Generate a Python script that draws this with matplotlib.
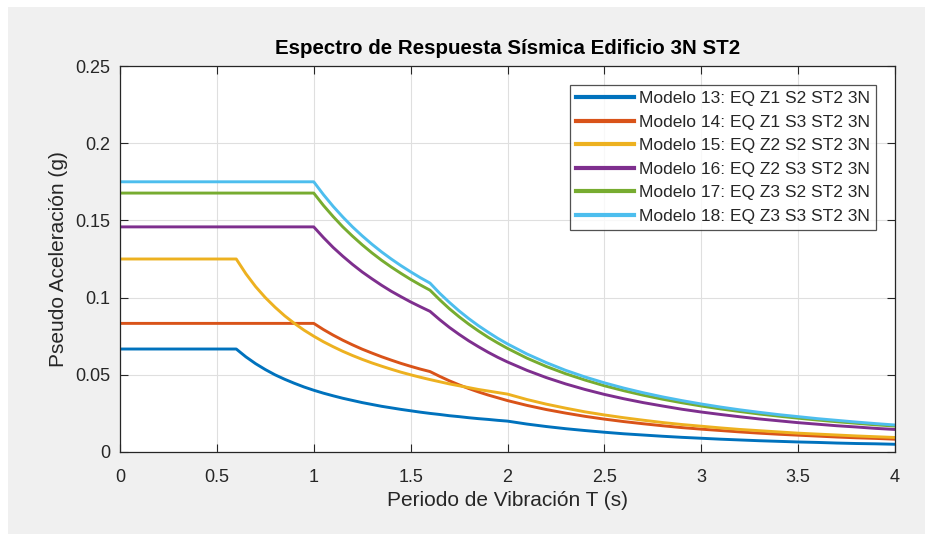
import matplotlib

matplotlib.use("Agg")

import matplotlib.pyplot as plt  # noqa: E402
from matplotlib.patches import Rectangle  # noqa: E402

plt.rcParams["font.family"] = ["Liberation Sans", "DejaVu Sans"]

# Periodo T (s): paso de 0.05 s en la rama descendente, 0.1 s en el resto
periodo = [0.0, 0.1, 0.2, 0.3, 0.4, 0.5, 0.6, 0.65, 0.7, 0.75, 0.8, 0.85, 0.9, 0.95, 1.0,
           1.05, 1.1, 1.15, 1.2, 1.25, 1.3, 1.35, 1.4, 1.45, 1.5, 1.55, 1.6,
           1.65, 1.7, 1.75, 1.8, 1.85, 1.9, 1.95, 2.0,
           2.1, 2.2, 2.3, 2.4, 2.5, 2.6, 2.7, 2.8, 2.9, 3.0,
           3.1, 3.2, 3.3, 3.4, 3.5, 3.6, 3.7, 3.8, 3.9, 4.0]

# Pseudo aceleracion Sa (g) de cada modelo
sa_m13 = [0.0667, 0.0667, 0.0667, 0.0667, 0.0667, 0.0667, 0.0667, 0.0616, 0.0572, 0.0534,
          0.0500, 0.0471, 0.0445, 0.0421, 0.0400,
          0.0381, 0.0364, 0.0348, 0.0334, 0.0320, 0.0308, 0.0296, 0.0286, 0.0276, 0.0267,
          0.0258, 0.0250,
          0.0243, 0.0235, 0.0229, 0.0222, 0.0216, 0.0211, 0.0205, 0.0200,
          0.0181, 0.0165, 0.0151, 0.0139, 0.0128, 0.0118, 0.0110, 0.0102, 0.0095, 0.0089,
          0.0083, 0.0078, 0.0073, 0.0069, 0.0065, 0.0062, 0.0058, 0.0055, 0.0053, 0.0050]
sa_m14 = [0.0833, 0.0833, 0.0833, 0.0833, 0.0833, 0.0833, 0.0833, 0.0833, 0.0833, 0.0833,
          0.0833, 0.0833, 0.0833, 0.0833, 0.0833,
          0.0793, 0.0757, 0.0724, 0.0694, 0.0666, 0.0641, 0.0617, 0.0595, 0.0574, 0.0555,
          0.0537, 0.0521,
          0.0490, 0.0461, 0.0435, 0.0411, 0.0389, 0.0369, 0.0351, 0.0333,
          0.0302, 0.0275, 0.0252, 0.0231, 0.0213, 0.0197, 0.0183, 0.0170, 0.0158, 0.0148,
          0.0139, 0.0130, 0.0122, 0.0115, 0.0109, 0.0103, 0.0097, 0.0092, 0.0088, 0.0083]
sa_m15 = [0.1250, 0.1250, 0.1250, 0.1250, 0.1250, 0.1250, 0.1250, 0.1154, 0.1071, 0.1000,
          0.0938, 0.0882, 0.0833, 0.0789, 0.0750,
          0.0714, 0.0682, 0.0652, 0.0625, 0.0600, 0.0577, 0.0556, 0.0536, 0.0517, 0.0500,
          0.0484, 0.0469,
          0.0455, 0.0441, 0.0429, 0.0417, 0.0405, 0.0395, 0.0385, 0.0375,
          0.0340, 0.0310, 0.0284, 0.0260, 0.0240, 0.0222, 0.0206, 0.0191, 0.0178, 0.0167,
          0.0156, 0.0146, 0.0138, 0.0130, 0.0122, 0.0116, 0.0110, 0.0104, 0.0099, 0.0094]
sa_m16 = [0.1458, 0.1458, 0.1458, 0.1458, 0.1458, 0.1458, 0.1458, 0.1458, 0.1458, 0.1458,
          0.1458, 0.1458, 0.1458, 0.1458, 0.1458,
          0.1389, 0.1325, 0.1268, 0.1215, 0.1166, 0.1122, 0.1080, 0.1041, 0.1006, 0.0972,
          0.0941, 0.0911,
          0.0857, 0.0807, 0.0762, 0.0720, 0.0682, 0.0646, 0.0613, 0.0583,
          0.0529, 0.0482, 0.0441, 0.0405, 0.0373, 0.0345, 0.0320, 0.0298, 0.0277, 0.0259,
          0.0243, 0.0228, 0.0214, 0.0202, 0.0190, 0.0180, 0.0170, 0.0162, 0.0153, 0.0146]
sa_m17 = [0.1677, 0.1677, 0.1677, 0.1677, 0.1677, 0.1677, 0.1677, 0.1677, 0.1677, 0.1677,
          0.1677, 0.1677, 0.1677, 0.1677, 0.1677,
          0.1597, 0.1525, 0.1458, 0.1398, 0.1342, 0.1290, 0.1242, 0.1198, 0.1157, 0.1118,
          0.1082, 0.1048,
          0.0986, 0.0928, 0.0876, 0.0828, 0.0784, 0.0743, 0.0706, 0.0671,
          0.0608, 0.0554, 0.0507, 0.0466, 0.0429, 0.0397, 0.0368, 0.0342, 0.0319, 0.0298,
          0.0279, 0.0262, 0.0246, 0.0232, 0.0219, 0.0207, 0.0196, 0.0186, 0.0176, 0.0168]
sa_m18 = [0.1750, 0.1750, 0.1750, 0.1750, 0.1750, 0.1750, 0.1750, 0.1750, 0.1750, 0.1750,
          0.1750, 0.1750, 0.1750, 0.1750, 0.1750,
          0.1667, 0.1591, 0.1522, 0.1458, 0.1400, 0.1346, 0.1296, 0.1250, 0.1207, 0.1167,
          0.1129, 0.1094,
          0.1028, 0.0969, 0.0914, 0.0864, 0.0818, 0.0776, 0.0736, 0.0700,
          0.0635, 0.0579, 0.0529, 0.0486, 0.0448, 0.0414, 0.0384, 0.0357, 0.0333, 0.0311,
          0.0291, 0.0273, 0.0257, 0.0242, 0.0229, 0.0216, 0.0205, 0.0194, 0.0184, 0.0175]

etiquetas = ["Modelo 13: EQ Z1 S2 ST2 3N",
             "Modelo 14: EQ Z1 S3 ST2 3N",
             "Modelo 15: EQ Z2 S2 ST2 3N",
             "Modelo 16: EQ Z2 S3 ST2 3N",
             "Modelo 17: EQ Z3 S2 ST2 3N",
             "Modelo 18: EQ Z3 S3 ST2 3N"]

xticks = [0, 0.5, 1, 1.5, 2, 2.5, 3, 3.5, 4]
xtick_labels = ["0", "0.5", "1", "1.5", "2", "2.5", "3", "3.5", "4"]
yticks = [0, 0.05, 0.1, 0.15, 0.2, 0.25]
ytick_labels = ["0", "0.05", "0.1", "0.15", "0.2", "0.25"]

# colores por defecto de MATLAB
colores = ["#0072BD", "#D95319", "#EDB120", "#7E2F8E", "#77AC30", "#4DBEEE"]

fig = plt.figure(figsize=(9.25, 5.34), dpi=100, facecolor="white")
fig.patches.append(Rectangle((8 / 925, 0), 1, 1 - 7 / 534, transform=fig.transFigure,
                             facecolor="#F0F0F0", edgecolor="none", zorder=-10))

ax = fig.add_axes([120 / 925, 82 / 534, 775 / 925, 386 / 534])
ax.set_facecolor("white")

series = [sa_m13, sa_m14, sa_m15, sa_m16, sa_m17, sa_m18]
for sa, c, lab in zip(series, colores, etiquetas):
    ax.plot(periodo, sa, color=c, lw=2.1, label=lab, solid_joinstyle="round")

ax.set_xlim(0, 4)
ax.set_ylim(0, 0.25)
ax.set_xticks(xticks)
ax.set_xticklabels(xtick_labels)
ax.set_yticks(yticks)
ax.set_yticklabels(ytick_labels)
ax.tick_params(direction="in", length=6, width=0.8, color="#262626",
               labelsize=13, labelcolor="#262626", top=True, right=True)
ax.tick_params(axis="x", pad=12)
ax.tick_params(axis="y", pad=7)
ax.grid(True, color="#DFDFDF", lw=0.8)
ax.set_axisbelow(True)
for s in ax.spines.values():
    s.set_color("#262626")
    s.set_linewidth(0.9)

ax.set_title("Espectro de Respuesta Sísmica Edificio 3N ST2", fontsize=14.8,
             fontweight="bold", color="black", pad=9)
ax.set_xlabel("Periodo de Vibración T (s)", fontsize=15, color="#262626", labelpad=4)
ax.set_ylabel("Pseudo Aceleración (g)", fontsize=15, color="#262626", labelpad=5)

leg = ax.legend(loc="upper right", bbox_to_anchor=((876 - 120) / 775, (452 - 85) / 386),
                borderaxespad=0, fontsize=12.5, frameon=True, fancybox=False,
                handlelength=3.3, handletextpad=0.3, labelspacing=0.48,
                borderpad=0.35)
leg.get_frame().set_edgecolor("#262626")
leg.get_frame().set_linewidth(0.9)
for h in leg.get_lines():
    h.set_linewidth(3.0)
for t in leg.get_texts():
    t.set_color("#262626")

fig.savefig("out.png", dpi=100, facecolor=fig.get_facecolor())
plt.close(fig)
